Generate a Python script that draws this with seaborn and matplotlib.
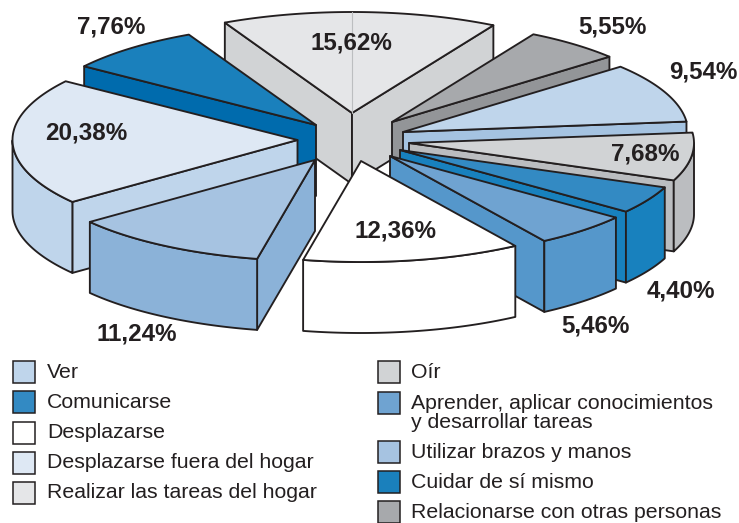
import numpy as np
import matplotlib
matplotlib.use("Agg")
import matplotlib.pyplot as plt
from matplotlib.patches import Rectangle
import seaborn as sns

# Data, clockwise from the top slice
categories = ["Realizar las tareas del hogar", "Relacionarse con otras personas", "Ver", "Oír",
              "Comunicarse", "Aprender, aplicar conocimientos\ny desarrollar tareas",
              "Desplazarse", "Utilizar brazos y manos", "Desplazarse fuera del hogar",
              "Cuidar de sí mismo"]
values = [15.62, 5.55, 9.54, 7.68, 4.40, 5.46, 12.36, 11.24, 20.38, 7.76]
value_labels = ["15,62%", "5,55%", "9,54%", "7,68%", "4,40%", "5,46%", "12,36%", "11,24%", "20,38%", "7,76%"]

legend_left = ["Ver", "Comunicarse", "Desplazarse", "Desplazarse fuera del hogar", "Realizar las tareas del hogar"]
legend_right = ["Oír", "Aprender, aplicar conocimientos\ny desarrollar tareas", "Utilizar brazos y manos",
                "Cuidar de sí mismo", "Relacionarse con otras personas"]

# Styles
top_colors = ["#E5E6E8", "#A7A9AC", "#BFD5EB", "#D1D3D5", "#338AC3", "#6FA3D1", "#FFFFFF", "#A6C3E1", "#DEE8F4", "#1A80BC"]
wall_colors = ["#D1D3D5", "#939598", "#A5C3E1", "#BBBDC0", "#1881BE", "#5597CB", "#FFFFFF", "#8BB2D8", "#BFD5EB", "#006BAD"]
apex_x = [352, 392, 403, 409, 400, 390, 361, 315, 297.5, 316]
apex_y = [113, 122, 132, 143, 150, 156, 161, 160, 140, 125]
label_x = [351, 612, 703, 645, 681, 595, 395, 137, 86, 111]
label_y = [43, 27, 72, 154, 291, 326, 231, 334, 133, 27]
draw_order = [0, 1, 9, 2, 8, 3, 4, 5, 7, 6]
START_ANGLE, RX, RY, DEPTH = 116.5, 285, 101, 71
EDGE = "#231F20"
LW = 1.35

sns.set_theme(style="white")
plt.rcParams["font.family"] = ["Liberation Sans", "DejaVu Sans"]
fig = plt.figure(figsize=(7.39, 5.23), dpi=100, facecolor="white")
ax = fig.add_axes([0, 0, 1, 1])
ax.set_xlim(0, 739)
ax.set_ylim(523, 0)
ax.axis("off")

ends = START_ANGLE - np.cumsum(values) / np.sum(values) * 360
starts = np.r_[START_ANGLE, ends[:-1]]


def rim(cx, cy, t0, t1):
    t = np.radians(np.linspace(t0, t1, max(int(abs(t1 - t0)) * 2, 2) + 1))
    return np.c_[cx + RX * np.cos(t), cy - RY * np.sin(t)]


def extrude(pts):
    return np.vstack([pts, pts[::-1] + [0, DEPTH]])


z = 1
for i in draw_order:
    a = np.array([apex_x[i], apex_y[i]], float)
    arc = rim(a[0], a[1], starts[i], ends[i])
    centroid = np.vstack([a, arc]).mean(axis=0)
    # Radial cut faces facing the viewer
    for p in (arc[0], arc[-1]):
        edge = p - a
        normal = np.array([-edge[1], edge[0]])
        if np.dot(normal, a - centroid) < 0:
            normal = -normal
        if normal[1] > 0:
            ax.fill(*extrude(np.vstack([a, p])).T, fc=wall_colors[i], ec=EDGE, lw=LW, zorder=z, joinstyle="round")
    # Outer wall: the part of the rim below the ellipse's widest line
    ang = np.linspace(starts[i], ends[i], 200)
    vis = ang[np.sin(np.radians(ang)) < 0]
    if len(vis) > 1:
        ax.fill(*extrude(rim(a[0], a[1], vis[0], vis[-1])).T, fc=wall_colors[i], ec=EDGE, lw=LW, zorder=z, joinstyle="round")
    # Top face
    ax.fill(*np.vstack([a, arc]).T, fc=top_colors[i], ec=EDGE, lw=LW, zorder=z + 0.5, joinstyle="round")
    if i == 0:
        ax.plot([a[0], a[0]], [a[1], a[1] - RY], color="#BCBEC0", lw=0.8, zorder=z + 0.6)
    z += 1

for x, y, s in zip(label_x, label_y, value_labels):
    ax.text(x, y, s, ha="center", va="center", fontsize=17.4, fontweight="bold", color=EDGE, zorder=50)


def color_of(name):
    return top_colors[categories.index(name)]


left_rows = [372, 402, 433, 463, 493]
right_rows = [372, 413, 452, 482, 512]
for names, rows, bx, tx in ((legend_left, left_rows, 13, 47), (legend_right, right_rows, 378, 411)):
    for name, y in zip(names, rows):
        by = y if "\n" not in name else y - 10
        ax.add_patch(Rectangle((bx, by - 11), 22, 22, fc=color_of(name), ec=EDGE, lw=1.1, zorder=40))
        ax.text(tx, y, name, ha="left", va="center", fontsize=15.3, color=EDGE, linespacing=1.03, zorder=50)

fig.savefig("out.png", dpi=100)
